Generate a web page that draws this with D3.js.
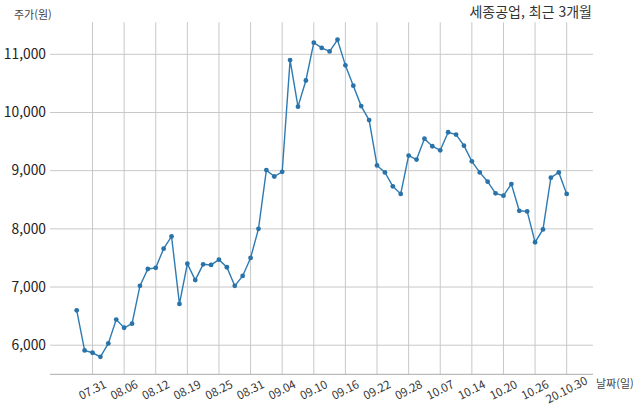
<!doctype html>
<html lang="ko">
<head>
  <meta charset="utf-8">
  <title>세종공업, 최근 3개월</title>
</head>
<style>
body {
	margin: 0;
	font-family: "Noto Sans CJK KR", "Noto Sans", sans-serif;
	background: #fff;
}
</style>
<body>
  <script src="https://d3js.org/d3.v7.min.js"></script>
  <script>

	// trading days (mm.dd), 2020
	var dates = ["07.29","07.30","07.31","08.03","08.04","08.05","08.06","08.07","08.10","08.11",
		"08.12","08.13","08.14","08.18","08.19","08.20","08.21","08.24","08.25","08.26",
		"08.27","08.28","08.31","09.01","09.02","09.03","09.04","09.07","09.08","09.09",
		"09.10","09.11","09.14","09.15","09.16","09.17","09.18","09.21","09.22","09.23",
		"09.24","09.25","09.28","09.29","10.05","10.06","10.07","10.08","10.12","10.13",
		"10.14","10.15","10.16","10.19","10.20","10.21","10.22","10.23","10.26","10.27",
		"10.28","10.29","10.30"];

	// closing price (won)
	var prices = [6600,5910,5870,5800,6030,6440,6300,6370,7020,7310,
		7330,7660,7870,6710,7400,7120,7390,7380,7470,7340,
		7020,7190,7500,8000,9010,8900,8980,10900,10100,10550,
		11200,11110,11050,11250,10810,10460,10110,9870,9090,8970,
		8730,8600,9260,9190,9550,9420,9350,9660,9620,9430,
		9160,8970,8810,8610,8570,8770,8310,8300,7770,7990,
		8880,8970,8600];

	var tickDates = ["07.31","08.06","08.12","08.19","08.25","08.31","09.04","09.10",
		"09.16","09.22","09.28","10.07","10.14","10.20","10.26","10.30"];
	var tickLabels = ["07.31","08.06","08.12","08.19","08.25","08.31","09.04","09.10",
		"09.16","09.22","09.28","10.07","10.14","10.20","10.26","20.10.30"];

	var yTicks = [6000,7000,8000,9000,10000,11000];

	var width = 640, height = 414;
	var svg = d3.select("body").append("svg")
		.attr("width", width)
		.attr("height", height);

	var x = d3.scaleLinear()
		.domain([-3.38, 65.33])
		.range([50, 593]);

	var y = d3.scaleLinear()
		.domain([5500, 11550])
		.range([374.3, 22.3]);

	var tickIdx = tickDates.map(function (d) { return dates.indexOf(d); });

	// horizontal grid
	svg.selectAll(".hgrid")
		.data(yTicks)
		.join("line")
		.classed("hgrid", true)
		.attr("x1", x.range()[0])
		.attr("x2", x.range()[1])
		.attr("y1", function (d) { return y(d); })
		.attr("y2", function (d) { return y(d); })
		.attr("stroke", "#c8c8c8")
		.attr("stroke-width", 1);

	// vertical grid
	svg.selectAll(".vgrid")
		.data(tickIdx)
		.join("line")
		.classed("vgrid", true)
		.attr("x1", function (d) { return x(d); })
		.attr("x2", function (d) { return x(d); })
		.attr("y1", y.range()[1])
		.attr("y2", y.range()[0])
		.attr("stroke", "#c8c8c8")
		.attr("stroke-width", 1);

	// x axis line
	svg.append("line")
		.attr("x1", x.range()[0])
		.attr("x2", x.range()[1])
		.attr("y1", y.range()[0])
		.attr("y2", y.range()[0])
		.attr("stroke", "#aaa");

	// y tick labels
	svg.selectAll(".ylab")
		.data(yTicks)
		.join("text")
		.classed("ylab", true)
		.attr("x", 46)
		.attr("y", function (d) { return y(d); })
		.attr("dy", "0.35em")
		.attr("text-anchor", "end")
		.attr("font-size", "13.8px")
		.attr("fill", "#222")
		.text(d3.format(","));

	// x tick labels, rotated
	svg.selectAll(".xlab")
		.data(tickIdx)
		.join("text")
		.classed("xlab", true)
		.attr("transform", function (d) {
			return "translate(" + x(d) + ",390) rotate(-27)";
		})
		.attr("dy", "0.35em")
		.attr("text-anchor", "middle")
		.attr("font-size", "11.5px")
		.attr("fill", "#333")
		.text(function (d, i) { return tickLabels[i]; });

	// line
	var line = d3.line()
		.x(function (d, i) { return x(i); })
		.y(function (d) { return y(d); });

	svg.append("path")
		.datum(prices)
		.attr("d", line)
		.attr("fill", "none")
		.attr("stroke", "#2d7bb3")
		.attr("stroke-width", 1.4);

	svg.selectAll(".dot")
		.data(prices)
		.join("circle")
		.classed("dot", true)
		.attr("cx", function (d, i) { return x(i); })
		.attr("cy", function (d) { return y(d); })
		.attr("r", 2.4)
		.attr("fill", "#2a73a8");

	// labels
	svg.append("text")
		.attr("x", 14)
		.attr("y", 15)
		.attr("dy", "0.35em")
		.attr("font-size", "11px")
		.attr("fill", "#444")
		.text("주가(원)");

	svg.append("text")
		.attr("x", 596)
		.attr("y", 384)
		.attr("dy", "0.35em")
		.attr("font-size", "11px")
		.attr("fill", "#444")
		.text("날짜(일)");

	svg.append("text")
		.attr("x", 592)
		.attr("y", 12)
		.attr("dy", "0.35em")
		.attr("text-anchor", "end")
		.attr("font-size", "14px")
		.attr("fill", "#333")
		.text("세종공업, 최근 3개월");

  </script>
</body>
</html>
